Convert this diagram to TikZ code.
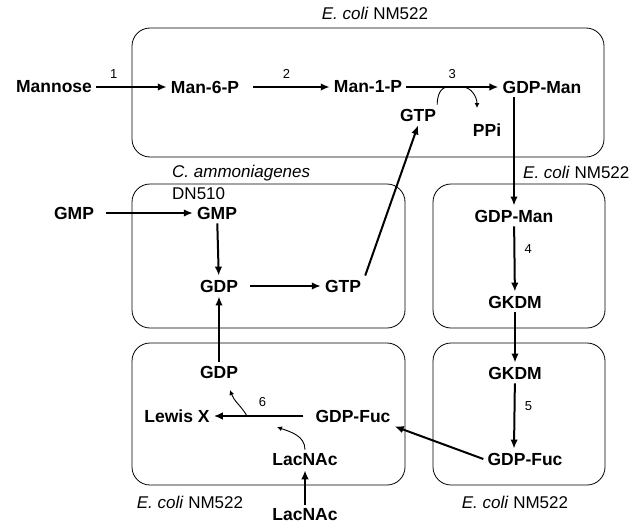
\documentclass[tikz,border=0pt]{standalone}
\usepackage{fontspec}
\setmainfont{Liberation Sans}
\usepackage{tikz}
\usetikzlibrary{arrows.meta}

\begin{document}
\begin{tikzpicture}[x=1pt,y=-1pt,
    met/.style={font=\bfseries\fontsize{17.5}{20}\selectfont,inner sep=4pt},
    lab/.style={font=\fontsize{17}{20}\selectfont,inner sep=0pt},
    num/.style={font=\fontsize{13}{15}\selectfont},
    cell/.style={line width=0.8pt,rounded corners=18pt},
    flux/.style={-{Latex[length=9pt,width=7.5pt]},line width=2pt},
    side/.style={-{Latex[length=5pt,width=5pt]},line width=0.9pt}]
    \useasboundingbox (0,0) rectangle (644,527);
    % cells
    \draw[cell] (132,28) rectangle (604,157);
    \draw[cell] (132,184) rectangle (405,328);
    \draw[cell] (433,184) rectangle (605,328);
    \draw[cell] (132,343) rectangle (405,485);
    \draw[cell] (433,343) rectangle (605,485);
    \node[lab] (stTop) at (375,13) {\textit{E. coli} NM522};
    \node[lab,anchor=west] (stAmm) at (172,173) {\textit{C. ammoniagenes}};
    \node[lab,anchor=west] (stDN) at (172,194) {DN510};
    \node[lab,anchor=west] (stMid) at (523,172) {\textit{E. coli} NM522};
    \node[lab] (stBotL) at (190,502) {\textit{E. coli} NM522};
    \node[lab] (stBotR) at (515,502) {\textit{E. coli} NM522};
    % mannose route
    \node[met] (mannose) at (54,87) {Mannose};
    \node[met] (man6p) at (205,87) {Man-6-P};
    \node[met] (man1p) at (368,87) {Man-1-P};
    \node[met] (gdpmanA) at (542,87) {GDP-Man};
    \node[met] (gtpA) at (418,115) {GTP};
    \node[met] (ppi) at (487,130) {PPi};
    \draw[flux] (mannose) -- (man6p) node[num,pos=0.25,above=4pt]{1};
    \draw[flux,shorten <=10pt] (man6p) -- (man1p) node[num,midway,above=4pt]{2};
    \draw[flux] (man1p) -- (gdpmanA) node[num,midway,above=4pt]{3};
    \coordinate (gtpjoin) at (448,87);
    \coordinate (ppijoin) at (462,87);
    \coordinate (ppitip) at (477,108);
    \draw[line width=0.9pt] ([xshift=-3pt]gtpA.north east) to[out=90,in=180] (gtpjoin);
    \draw[side] (ppijoin) to[out=0,in=90] (ppitip);
    % GTP supply
    \node[met] (gmpOut) at (74,213) {GMP};
    \node[met] (gmpB) at (217,213) {GMP};
    \node[met] (gdpB) at (219,286) {GDP};
    \node[met] (gtpB) at (343,286) {GTP};
    \draw[flux,shorten <=8pt] (gmpOut) -- (gmpB);
    \draw[flux] (gmpB) -- (gdpB);
    \draw[flux,shorten <=8pt] (gdpB) -- (gtpB);
    \draw[flux] (gtpB.north east) -- (gtpA.south);
    % GDP-Fuc route
    \node[met] (gdpmanC) at (514,216) {GDP-Man};
    \node[met] (gkdmC) at (515,302) {GKDM};
    \node[met] (gkdmE) at (515,373) {GKDM};
    \node[met] (gdpfucE) at (525,459) {GDP-Fuc};
    \draw[flux] (gdpmanA.south -| gdpmanC) -- (gdpmanC.north);
    \draw[flux] (gdpmanC) -- (gkdmC) node[num,pos=0.35,right=6pt]{4};
    \draw[flux] (gkdmC) -- (gkdmE);
    \draw[flux] (gkdmE) -- (gdpmanC |- gdpfucE.north) node[num,pos=0.35,right=6pt]{5};
    % Lewis X
    \node[met] (gdpD) at (219,372) {GDP};
    \node[met] (lewisx) at (177,416) {Lewis X};
    \node[met] (gdpfucD) at (353,416) {GDP-Fuc};
    \node[met] (lacnacD) at (305,460) {LacNAc};
    \node[met] (lacnacOut) at (305,515) {LacNAc};
    \draw[flux] (gdpD) -- (gdpB);
    \draw[flux,shorten <=8pt] (gdpfucD) -- (lewisx) node[num,midway,above=5pt]{6};
    \draw[flux] (gdpfucE.west) -- (gdpfucD.south east);
    \draw[flux] (lacnacOut) -- (lacnacD);
    \coordinate (gdpjoin) at (247,416);
    \coordinate (gdptip) at (230,390);
    \coordinate (lactip) at (277,427);
    \draw[side] (gdpjoin) to[out=120,in=-70] (gdptip);
    \draw[side] (lacnacD.north) to[out=90,in=-20] (lactip);
\end{tikzpicture}
\end{document}
